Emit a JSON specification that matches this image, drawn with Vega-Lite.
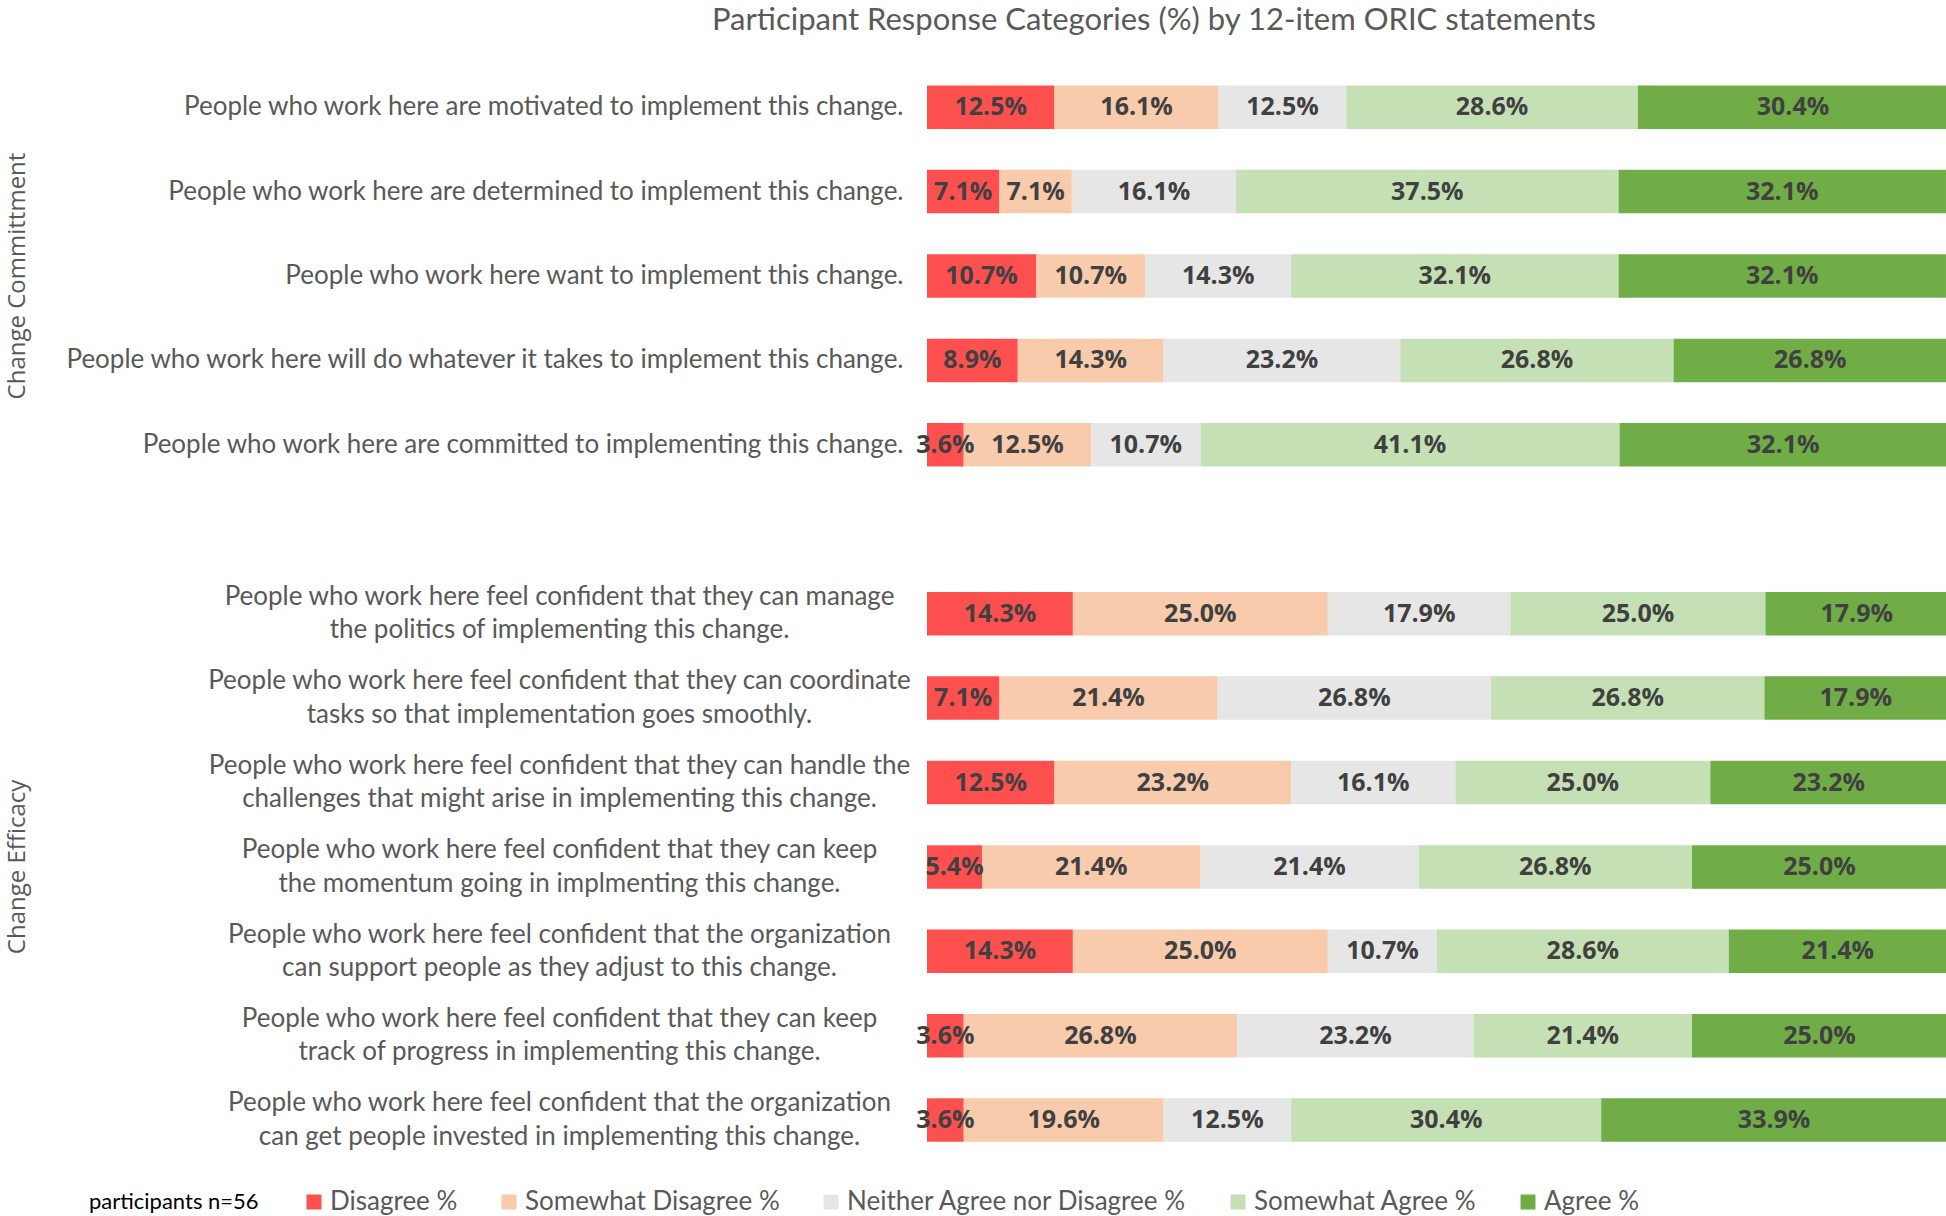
{
  "$schema": "https://vega.github.io/schema/vega-lite/v6.json",
  "background": "white",
  "padding": {"left": 6, "top": 4, "right": 0, "bottom": 0},
  "config": {"view": {"stroke": null}},
  "title": {"text": "Participant Response Categories (%) by 12-item ORIC statements", "font": "Lato", "fontSize": 31, "fontWeight": "normal", "color": "#595959", "anchor": "start", "frame": "bounds", "dx": 706, "offset": 28.5},
  "datasets": {
    "d": [
      {"g": "Change Committment", "q": "People who work here are motivated to implement this change.", "c": "Disagree %", "k": 1, "v": 0.125},
      {"g": "Change Committment", "q": "People who work here are motivated to implement this change.", "c": "Somewhat Disagree %", "k": 2, "v": 0.161},
      {"g": "Change Committment", "q": "People who work here are motivated to implement this change.", "c": "Neither Agree nor Disagree %", "k": 3, "v": 0.125},
      {"g": "Change Committment", "q": "People who work here are motivated to implement this change.", "c": "Somewhat Agree %", "k": 4, "v": 0.286},
      {"g": "Change Committment", "q": "People who work here are motivated to implement this change.", "c": "Agree %", "k": 5, "v": 0.304},
      {"g": "Change Committment", "q": "People who work here are determined to implement this change.", "c": "Disagree %", "k": 1, "v": 0.071},
      {"g": "Change Committment", "q": "People who work here are determined to implement this change.", "c": "Somewhat Disagree %", "k": 2, "v": 0.071},
      {"g": "Change Committment", "q": "People who work here are determined to implement this change.", "c": "Neither Agree nor Disagree %", "k": 3, "v": 0.161},
      {"g": "Change Committment", "q": "People who work here are determined to implement this change.", "c": "Somewhat Agree %", "k": 4, "v": 0.375},
      {"g": "Change Committment", "q": "People who work here are determined to implement this change.", "c": "Agree %", "k": 5, "v": 0.321},
      {"g": "Change Committment", "q": "People who work here want to implement this change.", "c": "Disagree %", "k": 1, "v": 0.107},
      {"g": "Change Committment", "q": "People who work here want to implement this change.", "c": "Somewhat Disagree %", "k": 2, "v": 0.107},
      {"g": "Change Committment", "q": "People who work here want to implement this change.", "c": "Neither Agree nor Disagree %", "k": 3, "v": 0.143},
      {"g": "Change Committment", "q": "People who work here want to implement this change.", "c": "Somewhat Agree %", "k": 4, "v": 0.321},
      {"g": "Change Committment", "q": "People who work here want to implement this change.", "c": "Agree %", "k": 5, "v": 0.321},
      {"g": "Change Committment", "q": "People who work here will do whatever it takes to implement this change.", "c": "Disagree %", "k": 1, "v": 0.089},
      {"g": "Change Committment", "q": "People who work here will do whatever it takes to implement this change.", "c": "Somewhat Disagree %", "k": 2, "v": 0.143},
      {"g": "Change Committment", "q": "People who work here will do whatever it takes to implement this change.", "c": "Neither Agree nor Disagree %", "k": 3, "v": 0.232},
      {"g": "Change Committment", "q": "People who work here will do whatever it takes to implement this change.", "c": "Somewhat Agree %", "k": 4, "v": 0.268},
      {"g": "Change Committment", "q": "People who work here will do whatever it takes to implement this change.", "c": "Agree %", "k": 5, "v": 0.268},
      {"g": "Change Committment", "q": "People who work here are committed to implementing this change.", "c": "Disagree %", "k": 1, "v": 0.036},
      {"g": "Change Committment", "q": "People who work here are committed to implementing this change.", "c": "Somewhat Disagree %", "k": 2, "v": 0.125},
      {"g": "Change Committment", "q": "People who work here are committed to implementing this change.", "c": "Neither Agree nor Disagree %", "k": 3, "v": 0.107},
      {"g": "Change Committment", "q": "People who work here are committed to implementing this change.", "c": "Somewhat Agree %", "k": 4, "v": 0.411},
      {"g": "Change Committment", "q": "People who work here are committed to implementing this change.", "c": "Agree %", "k": 5, "v": 0.321},
      {"g": "Change Efficacy", "q": "People who work here feel confident that they can manage|the politics of implementing this change.", "c": "Disagree %", "k": 1, "v": 0.143},
      {"g": "Change Efficacy", "q": "People who work here feel confident that they can manage|the politics of implementing this change.", "c": "Somewhat Disagree %", "k": 2, "v": 0.25},
      {"g": "Change Efficacy", "q": "People who work here feel confident that they can manage|the politics of implementing this change.", "c": "Neither Agree nor Disagree %", "k": 3, "v": 0.179},
      {"g": "Change Efficacy", "q": "People who work here feel confident that they can manage|the politics of implementing this change.", "c": "Somewhat Agree %", "k": 4, "v": 0.25},
      {"g": "Change Efficacy", "q": "People who work here feel confident that they can manage|the politics of implementing this change.", "c": "Agree %", "k": 5, "v": 0.179},
      {"g": "Change Efficacy", "q": "People who work here feel confident that they can coordinate|tasks so that implementation goes smoothly.", "c": "Disagree %", "k": 1, "v": 0.071},
      {"g": "Change Efficacy", "q": "People who work here feel confident that they can coordinate|tasks so that implementation goes smoothly.", "c": "Somewhat Disagree %", "k": 2, "v": 0.214},
      {"g": "Change Efficacy", "q": "People who work here feel confident that they can coordinate|tasks so that implementation goes smoothly.", "c": "Neither Agree nor Disagree %", "k": 3, "v": 0.268},
      {"g": "Change Efficacy", "q": "People who work here feel confident that they can coordinate|tasks so that implementation goes smoothly.", "c": "Somewhat Agree %", "k": 4, "v": 0.268},
      {"g": "Change Efficacy", "q": "People who work here feel confident that they can coordinate|tasks so that implementation goes smoothly.", "c": "Agree %", "k": 5, "v": 0.179},
      {"g": "Change Efficacy", "q": "People who work here feel confident that they can handle the|challenges that might arise in implementing this change.", "c": "Disagree %", "k": 1, "v": 0.125},
      {"g": "Change Efficacy", "q": "People who work here feel confident that they can handle the|challenges that might arise in implementing this change.", "c": "Somewhat Disagree %", "k": 2, "v": 0.232},
      {"g": "Change Efficacy", "q": "People who work here feel confident that they can handle the|challenges that might arise in implementing this change.", "c": "Neither Agree nor Disagree %", "k": 3, "v": 0.161},
      {"g": "Change Efficacy", "q": "People who work here feel confident that they can handle the|challenges that might arise in implementing this change.", "c": "Somewhat Agree %", "k": 4, "v": 0.25},
      {"g": "Change Efficacy", "q": "People who work here feel confident that they can handle the|challenges that might arise in implementing this change.", "c": "Agree %", "k": 5, "v": 0.232},
      {"g": "Change Efficacy", "q": "People who work here feel confident that they can keep|the momentum going in implmenting this change.", "c": "Disagree %", "k": 1, "v": 0.054},
      {"g": "Change Efficacy", "q": "People who work here feel confident that they can keep|the momentum going in implmenting this change.", "c": "Somewhat Disagree %", "k": 2, "v": 0.214},
      {"g": "Change Efficacy", "q": "People who work here feel confident that they can keep|the momentum going in implmenting this change.", "c": "Neither Agree nor Disagree %", "k": 3, "v": 0.214},
      {"g": "Change Efficacy", "q": "People who work here feel confident that they can keep|the momentum going in implmenting this change.", "c": "Somewhat Agree %", "k": 4, "v": 0.268},
      {"g": "Change Efficacy", "q": "People who work here feel confident that they can keep|the momentum going in implmenting this change.", "c": "Agree %", "k": 5, "v": 0.25},
      {"g": "Change Efficacy", "q": "People who work here feel confident that the organization|can support people as they adjust to this change.", "c": "Disagree %", "k": 1, "v": 0.143},
      {"g": "Change Efficacy", "q": "People who work here feel confident that the organization|can support people as they adjust to this change.", "c": "Somewhat Disagree %", "k": 2, "v": 0.25},
      {"g": "Change Efficacy", "q": "People who work here feel confident that the organization|can support people as they adjust to this change.", "c": "Neither Agree nor Disagree %", "k": 3, "v": 0.107},
      {"g": "Change Efficacy", "q": "People who work here feel confident that the organization|can support people as they adjust to this change.", "c": "Somewhat Agree %", "k": 4, "v": 0.286},
      {"g": "Change Efficacy", "q": "People who work here feel confident that the organization|can support people as they adjust to this change.", "c": "Agree %", "k": 5, "v": 0.214},
      {"g": "Change Efficacy", "q": "People who work here feel confident that they can keep|track of progress in implementing this change.", "c": "Disagree %", "k": 1, "v": 0.036},
      {"g": "Change Efficacy", "q": "People who work here feel confident that they can keep|track of progress in implementing this change.", "c": "Somewhat Disagree %", "k": 2, "v": 0.268},
      {"g": "Change Efficacy", "q": "People who work here feel confident that they can keep|track of progress in implementing this change.", "c": "Neither Agree nor Disagree %", "k": 3, "v": 0.232},
      {"g": "Change Efficacy", "q": "People who work here feel confident that they can keep|track of progress in implementing this change.", "c": "Somewhat Agree %", "k": 4, "v": 0.214},
      {"g": "Change Efficacy", "q": "People who work here feel confident that they can keep|track of progress in implementing this change.", "c": "Agree %", "k": 5, "v": 0.25},
      {"g": "Change Efficacy", "q": "People who work here feel confident that the organization|can get people invested in implementing this change.", "c": "Disagree %", "k": 1, "v": 0.036},
      {"g": "Change Efficacy", "q": "People who work here feel confident that the organization|can get people invested in implementing this change.", "c": "Somewhat Disagree %", "k": 2, "v": 0.196},
      {"g": "Change Efficacy", "q": "People who work here feel confident that the organization|can get people invested in implementing this change.", "c": "Neither Agree nor Disagree %", "k": 3, "v": 0.125},
      {"g": "Change Efficacy", "q": "People who work here feel confident that the organization|can get people invested in implementing this change.", "c": "Somewhat Agree %", "k": 4, "v": 0.304},
      {"g": "Change Efficacy", "q": "People who work here feel confident that the organization|can get people invested in implementing this change.", "c": "Agree %", "k": 5, "v": 0.339}
    ]
  },
  "data": {"name": "d"},
  "facet": {
    "row": {"field": "g", "type": "nominal", "sort": ["Change Committment", "Change Efficacy"],
      "header": {"title": null, "labelAngle": -90, "labelOrient": "left", "labelFont": "Open Sans", "labelFontSize": 24, "labelColor": "#595959", "labelPadding": 20}}
  },
  "spacing": {"row": 84.5},
  "resolve": {"scale": {"y": "independent"}},
  "spec": {
    "width": 1020,
    "height": {"step": 84.4},
    "encoding": {
      "y": {"field": "q", "type": "nominal", "sort": null,
        "scale": {"paddingInner": 0.485, "paddingOuter": 0.2425},
        "axis": {"title": null, "domain": false, "ticks": false, "labelFont": "Lato", "labelFontSize": 26, "labelColor": "#595959",
          "labelLimit": 1000, "labelExpr": "split(datum.label, '|')", "labelLineHeight": 33.5, "minExtent": 865, "maxExtent": 865, "labelBaseline": "middle",
          "labelAlign": {"condition": {"test": "indexof(datum.value, '|') >= 0", "value": "center"}, "value": "right"},
          "labelPadding": {"condition": {"test": "indexof(datum.value, '|') >= 0", "value": 368}, "value": 24},
          "labelOffset": {"condition": {"test": "indexof(datum.value, '|') >= 0", "value": -16.75}, "value": 0}}}
    },
    "layer": [
      {"mark": {"type": "bar"},
       "encoding": {
         "x": {"field": "v", "type": "quantitative", "stack": "zero", "scale": {"domain": [0, 1]}, "axis": null},
         "color": {"field": "c", "type": "nominal",
           "scale": {"domain": ["Disagree %", "Somewhat Disagree %", "Neither Agree nor Disagree %", "Somewhat Agree %", "Agree %"], "range": ["#FF5050", "#F8CBAD", "#E7E6E6", "#C5E0B4", "#70AD47"]},
           "legend": {"title": "participants n=56", "orient": "none", "direction": "horizontal", "legendX": -838, "legendY": 1124, "titleOrient": "left", "titleFont": "Lato", "titleFontSize": 22, "titleFontWeight": "normal", "titleColor": "#000000", "titlePadding": 42, "titleBaseline": "middle", "labelFont": "Lato", "labelFontSize": 26, "labelColor": "#595959", "labelLimit": 600, "symbolType": "square", "symbolSize": 225, "symbolStrokeWidth": 0, "columnPadding": 38, "labelOffset": 3}},
         "order": {"field": "k"}
       }},
      {"mark": {"type": "text", "font": "Open Sans", "fontWeight": "bold", "fontSize": 25, "color": "#404040"},
       "encoding": {
         "x": {"field": "v", "type": "quantitative", "stack": "zero", "bandPosition": 0.5},
         "text": {"field": "v", "type": "quantitative", "format": ".1%"},
         "order": {"field": "k"}
       }}
    ]
  }
}
